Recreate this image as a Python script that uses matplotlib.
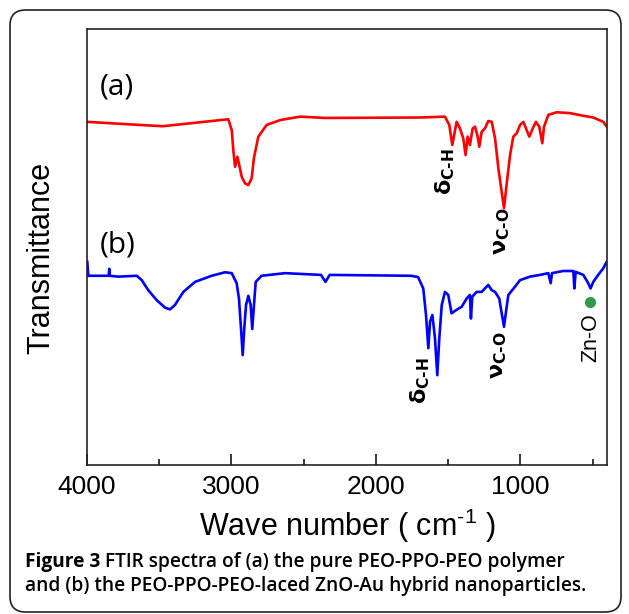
import matplotlib
matplotlib.use('Agg')
from matplotlib import pyplot as plt
from matplotlib.patches import FancyBboxPatch

plt.rcParams['mathtext.fontset'] = 'custom'
plt.rcParams['mathtext.rm'] = 'Liberation Sans'
plt.rcParams['mathtext.bf'] = 'DejaVu Sans:bold'

# (a) pure PEO-PPO-PEO
wn_a = [4000, 3477, 3022, 2998, 2987, 2975, 2959, 2946, 2929, 2906, 2883, 2860, 2844,
        2814, 2756, 2664, 2525, 2349, 1695, 1522, 1492, 1471, 1441, 1418, 1395, 1379,
        1365, 1349, 1330, 1314, 1298, 1284, 1268, 1245, 1222, 1198, 1175, 1152, 1136,
        1113, 1090, 1071, 1049, 1025, 1002, 979, 961, 938, 914, 892, 869, 848, 836,
        806, 748, 656, 564, 495, 426, 402]
tr_a = [78.7, 77.7, 79.3, 76.8, 72.2, 68.4, 70.7, 68.8, 66.1, 64.6, 64.2, 65.8, 70.5,
        75.3, 78.0, 79.1, 79.9, 79.6, 79.7, 79.9, 78.0, 73.4, 78.7, 77.2, 74.9, 71.1,
        75.3, 73.4, 77.2, 77.6, 75.7, 73.0, 76.4, 77.2, 78.9, 78.7, 74.9, 68.0, 64.2,
        58.9, 65.8, 71.1, 75.3, 76.1, 78.0, 78.7, 77.2, 75.3, 77.2, 78.7, 77.6, 73.8, 77.6,
        80.3, 80.9, 80.7, 80.1, 79.7, 78.7, 77.6]

# (b) PEO-PPO-PEO-laced ZnO-Au
wn_b = [3998, 3991, 3850, 3846, 3842, 3783, 3656, 3621, 3576, 3517, 3460, 3425, 3391,
        3333, 3252, 3137, 3045, 2998, 2964, 2948, 2934, 2922, 2911, 2899, 2883, 2867,
        2856, 2844, 2832, 2791, 2629, 2380, 2349, 2320, 1755, 1708, 1672, 1653, 1637,
        1625, 1609, 1591, 1575, 1561, 1544, 1522, 1499, 1476, 1441, 1406, 1371, 1349,
        1342, 1333, 1303, 1268, 1245, 1222, 1198, 1175, 1146, 1129, 1113, 1099, 1083,
        1037, 1002, 933, 864, 806, 790, 781, 703, 633, 626, 617, 564, 530, 514, 495,
        461, 426, 402]
tr_b = [46.6, 43.4, 43.4, 45.0, 43.4, 43.2, 43.4, 42.4, 40.1, 37.8, 36.1, 35.7, 36.7,
        39.7, 42.0, 43.4, 44.2, 44.0, 41.7, 38.2, 31.4, 25.2, 31.4, 36.7, 38.8, 36.7,
        31.2, 36.7, 42.0, 43.4, 44.0, 43.6, 42.0, 43.6, 43.4, 43.1, 40.5, 34.4, 26.8,
        32.9, 34.4, 29.1, 20.6, 29.1, 36.7, 39.7, 39.0, 34.8, 35.6, 36.3, 38.2, 39.0,
        33.6, 38.6, 39.7, 39.7, 40.5, 41.3, 40.1, 39.7, 38.2, 34.8, 31.7, 35.2, 39.0,
        40.9, 42.4, 43.2, 43.6, 44.0, 41.7, 44.0, 44.5, 44.5, 40.5, 44.3, 43.6, 41.7,
        40.5, 42.0, 43.6, 45.1, 46.6]

fig = plt.figure(figsize=(6.29, 6.14), dpi=100)
ax = fig.add_axes([87 / 629, 149 / 614, 520 / 629, 436 / 614])

ax.plot(wn_a, tr_a, color='#ff0000', lw=1.9)
ax.plot(wn_b, tr_b, color='#0000ff', lw=1.9)

ax.set_xlim(4000, 400)
ax.set_ylim(0, 100)
ax.set_xticks([4000, 3000, 2000, 1000])
ax.set_xticks([3500, 2500, 1500, 500], minor=True)
ax.set_yticks([])
ax.tick_params(axis='x', which='major', direction='in', length=8, width=1.1,
               labelsize=19, pad=7)
ax.tick_params(axis='x', which='minor', direction='in', length=4.5, width=1.1)
for lbl in ax.get_xticklabels():
    lbl.set_family('Liberation Sans')
for s in ax.spines.values():
    s.set_linewidth(1.2)
    s.set_color('#222222')

ax.set_xlabel('Wave number ( cm$^{‐1}$ )', family='Liberation Sans', size=22, labelpad=6)
ax.set_ylabel('Transmittance', family='Liberation Sans', size=22)
ax.yaxis.set_label_coords(-0.058, 0.475)

ax.text(3915, 86.7, '(a)', family='Open Sans', size=21.5, va='center')
ax.text(3915, 50.5, '(b)', family='Open Sans', size=21.5, va='center')

ax.text(1522, 67.4, r'$\mathbf{δ}_{\mathbf{C‐H}}$', rotation=90, size=16,
        ha='center', va='center')
ax.text(1127, 53.7, r'$\mathbf{ν}_{\mathbf{C‐O}}$', rotation=90, size=16,
        ha='center', va='center')
ax.text(1695, 19.3, r'$\mathbf{δ}_{\mathbf{C‐H}}$', rotation=90, size=16,
        ha='center', va='center')
ax.text(1148, 25.2, r'$\mathbf{ν}_{\mathbf{C‐O}}$', rotation=90, size=16,
        ha='center', va='center')
ax.text(511, 29.1, 'Zn-O', family='Liberation Sans', rotation=90, size=15.5,
        ha='center', va='center')
ax.plot([518], [37.4], 'o', color='#2e9a4a', ms=7)

# rounded frame round the whole figure
frame = FancyBboxPatch((10 / 629, 2 / 614), 611 / 629, 602 / 614,
                       boxstyle='round,pad=0,rounding_size=0.025',
                       transform=fig.transFigure, fill=False,
                       edgecolor='#222222', lw=1.2)
fig.patches.append(frame)

# caption
r = fig.canvas.get_renderer()
t1 = fig.text(25 / 629, 1 - 567 / 614, 'Figure 3', family='Open Sans',
              weight='bold', size=13.8, va='baseline')
bb = t1.get_window_extent(r)
fig.text(bb.x1 / 629 + 5 / 629, 1 - 567 / 614,
         'FTIR spectra of (a) the pure PEO-PPO-PEO polymer',
         family='Open Sans', weight='semibold', size=13.8, va='baseline')
fig.text(25 / 629, 1 - 591 / 614,
         'and (b) the PEO-PPO-PEO-laced ZnO-Au hybrid nanoparticles.',
         family='Open Sans', weight='semibold', size=13.8, va='baseline')

fig.savefig('out.png', dpi=100)
